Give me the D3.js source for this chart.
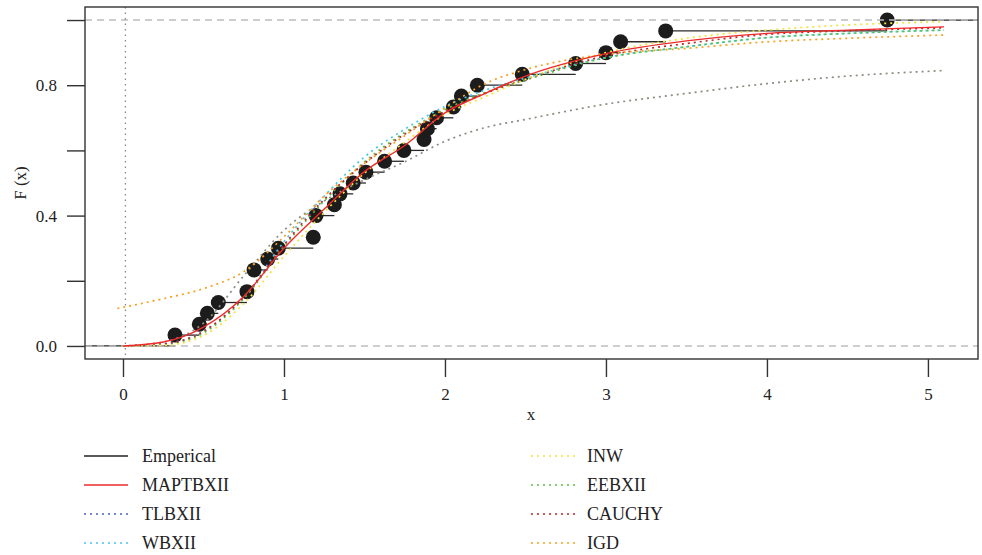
<!DOCTYPE html>
<html>
<head>
<meta charset="utf-8">
<script src="https://cdn.jsdelivr.net/npm/d3@7"></script>
<style>
  body { margin: 0; background: #fff; }
  text { font-family: "Liberation Serif", "DejaVu Serif", serif; fill: #222; }
</style>
</head>
<body>
<script>
const w = 982;
const h = 555;

// empirical cdf: sorted observations and cumulative counts (n = 30)
const n = 30;
const ecdfX = [0.323, 0.474, 0.524, 0.592, 0.770, 0.814, 0.899, 0.965, 1.182, 1.199,
               1.313, 1.348, 1.430, 1.509, 1.625, 1.745, 1.870, 1.891, 1.948, 2.052,
               2.102, 2.201, 2.480, 2.812, 3.000, 3.091, 3.371, 4.747];
const ecdfCount = [1, 2, 3, 4, 5, 7, 8, 9, 10, 12,
                   13, 14, 15, 16, 17, 18, 19, 20, 21, 22,
                   23, 24, 25, 26, 27, 28, 29, 30];

// fitted cdfs on a common grid
const gridX = [0, 0.25, 0.5, 0.75, 1, 1.25, 1.5, 1.75, 2, 2.25, 2.5, 3, 3.5, 4, 4.5, 5.1];
const maptbxii = [0, 0.012, 0.058, 0.152, 0.300, 0.420, 0.535, 0.615, 0.715, 0.775, 0.828, 0.897, 0.936, 0.959, 0.969, 0.979];
const tlbxii   = [0, 0.012, 0.070, 0.215, 0.355, 0.445, 0.510, 0.565, 0.628, 0.670, 0.695, 0.742, 0.775, 0.805, 0.828, 0.845];
const wbxii    = [0, 0.006, 0.045, 0.150, 0.320, 0.460, 0.580, 0.665, 0.735, 0.785, 0.822, 0.885, 0.918, 0.946, 0.959, 0.969];
const inw      = [0, 0.002, 0.032, 0.130, 0.275, 0.410, 0.530, 0.625, 0.710, 0.765, 0.818, 0.900, 0.944, 0.969, 0.985, 0.995];
const eebxii   = [0, 0.005, 0.040, 0.145, 0.305, 0.445, 0.565, 0.655, 0.725, 0.778, 0.816, 0.884, 0.918, 0.946, 0.959, 0.969];
const cauchy   = [0, 0.006, 0.045, 0.150, 0.310, 0.450, 0.560, 0.650, 0.720, 0.775, 0.818, 0.890, 0.928, 0.956, 0.967, 0.976];
const igdX     = [-0.035, 0.25, 0.5, 0.75, 1, 1.25, 1.5, 1.75, 2, 2.25, 2.5, 3, 3.5, 4, 4.5, 5.1];
const igd      = [0.115, 0.145, 0.176, 0.228, 0.335, 0.460, 0.560, 0.645, 0.730, 0.805, 0.848, 0.895, 0.913, 0.933, 0.944, 0.954];

const yTicks = [0, 0.2, 0.4, 0.6, 0.8, 1.0];
const yLabels = ["0.0", "", "0.4", "", "0.8", ""];
const xTicks = [0, 1, 2, 3, 4, 5];

const legendNames = ["Emperical", "MAPTBXII", "TLBXII", "WBXII", "INW", "EEBXII", "CAUCHY", "IGD"];
const legendColors = ["#222222", "#ee2a2a", "#4a5fc0", "#45c8ea", "#f2e23a", "#5cc040", "#b82a2a", "#f5a11e"];

let svg = d3.select("body")
            .append("svg")
                .attr("width", w)
                .attr("height", h);

let x = d3.scaleLinear().domain([-0.236, 5.311]).range([85, 978]);
let y = d3.scaleLinear().domain([-0.04, 1.04]).range([359, 7]);

// plot area clip
svg.append("clipPath").attr("id", "plotclip")
    .append("rect")
    .attr("x", 85).attr("y", 7).attr("width", 893).attr("height", 352);

let plot = svg.append("g").attr("clip-path", "url(#plotclip)");

// empirical step segments
let steps = ecdfX.map((v, i) => ({
    x0: v,
    x1: i < ecdfX.length - 1 ? ecdfX[i + 1] : x.domain()[1],
    p: ecdfCount[i] / n
}));
steps.unshift({x0: x.domain()[0], x1: ecdfX[0], p: 0});

plot.selectAll("line.step")
    .data(steps)
    .enter()
    .append("line")
    .attr("class", "step")
    .attr("x1", (d) => x(d.x0))
    .attr("x2", (d) => x(d.x1))
    .attr("y1", (d) => y(d.p))
    .attr("y2", (d) => y(d.p))
    .attr("stroke", "#2a2a2a")
    .attr("stroke-width", 1.3);

plot.selectAll("circle")
    .data(ecdfX)
    .enter()
    .append("circle")
    .attr("cx", (d) => x(d))
    .attr("cy", (d, i) => y(ecdfCount[i] / n))
    .attr("r", 7.5)
    .attr("fill", "#1c1c1c");

// dashed lines at 0 and 1
plot.selectAll("line.ref")
    .data([0, 1])
    .enter()
    .append("line")
    .attr("class", "ref")
    .attr("x1", 85).attr("x2", 978)
    .attr("y1", (d) => y(d)).attr("y2", (d) => y(d))
    .attr("stroke", "#bdbdbd")
    .attr("stroke-width", 1.5)
    .attr("stroke-dasharray", "7,5");

// vertical dotted line near zero
plot.append("line")
    .attr("x1", x(0.015)).attr("x2", x(0.015))
    .attr("y1", 7).attr("y2", 359)
    .attr("stroke", "#8c8878")
    .attr("stroke-width", 1.3)
    .attr("stroke-dasharray", "1.5,4");

// fitted curves
let curves = [
    {xs: gridX, ys: tlbxii, color: "#8c8c82", dash: "2,4"},
    {xs: gridX, ys: wbxii, color: legendColors[3], dash: "2,4"},
    {xs: gridX, ys: eebxii, color: legendColors[5], dash: "2,4"},
    {xs: gridX, ys: cauchy, color: legendColors[6], dash: "2,4"},
    {xs: igdX, ys: igd, color: legendColors[7], dash: "2,4"},
    {xs: gridX, ys: inw, color: legendColors[4], dash: "2,4"},
    {xs: gridX, ys: maptbxii, color: legendColors[1], dash: null}
];

let line = d3.line()
    .x((d) => x(d[0]))
    .y((d) => y(d[1]))
    .curve(d3.curveMonotoneX);

plot.selectAll("path.fit")
    .data(curves)
    .enter()
    .append("path")
    .attr("class", "fit")
    .attr("d", (c) => line(c.xs.map((v, i) => [v, c.ys[i]])))
    .attr("fill", "none")
    .attr("stroke", (c) => c.color)
    .attr("stroke-width", (c) => c.dash ? 1.7 : 1.4)
    .attr("stroke-dasharray", (c) => c.dash);

// box
svg.append("rect")
    .attr("x", 85).attr("y", 7)
    .attr("width", 893).attr("height", 352)
    .attr("fill", "none")
    .attr("stroke", "#333")
    .attr("stroke-width", 1.4);

// axes
let yAxis = d3.axisLeft(y)
    .tickValues(yTicks)
    .tickFormat((d, i) => yLabels[i])
    .tickSize(18)
    .tickPadding(10);
let gy = svg.append("g")
    .attr("transform", "translate(85,0)")
    .call(yAxis);

let xAxis = d3.axisBottom(x)
    .tickValues(xTicks)
    .tickFormat(d3.format("d"))
    .tickSize(18)
    .tickPadding(11);
let gx = svg.append("g")
    .attr("transform", "translate(0,359)")
    .call(xAxis);

[gx, gy].forEach((g) => {
    g.attr("font-family", "'Liberation Serif', serif").attr("font-size", 17);
    g.select(".domain").remove();
    g.selectAll(".tick line").attr("stroke", "#333").attr("stroke-width", 1.4);
    g.selectAll(".tick text")
        .style("font-family", "'Liberation Serif', serif")
        .style("font-size", "17px")
        .attr("fill", "#333");
});

svg.append("text")
    .attr("x", 531)
    .attr("y", 420)
    .attr("text-anchor", "middle")
    .style("font-size", "17px")
    .text("x");

svg.append("text")
    .attr("transform", "translate(26,183) rotate(-90)")
    .attr("text-anchor", "middle")
    .style("font-size", "17px")
    .text("F (x)");

// legend, two columns
let legend = svg.append("g");
let items = legend.selectAll("g")
    .data(legendNames)
    .enter()
    .append("g")
    .attr("transform", (d, i) => {
        let col = Math.floor(i / 4);
        let row = i % 4;
        return "translate(" + (col === 0 ? 84 : 531) + "," + (456 + row * 29) + ")";
    });

items.append("line")
    .attr("x1", 0).attr("x2", 44)
    .attr("y1", 0).attr("y2", 0)
    .attr("stroke", (d, i) => legendColors[i])
    .attr("stroke-width", (d, i) => i < 2 ? 1.5 : 1.6)
    .attr("stroke-dasharray", (d, i) => i < 2 ? null : "2,4");

items.append("text")
    .attr("x", (d, i) => i < 4 ? 58 : 56)
    .attr("y", 6)
    .style("font-size", "18px")
    .attr("fill", "#222")
    .text((d) => d);
</script>
</body>
</html>
